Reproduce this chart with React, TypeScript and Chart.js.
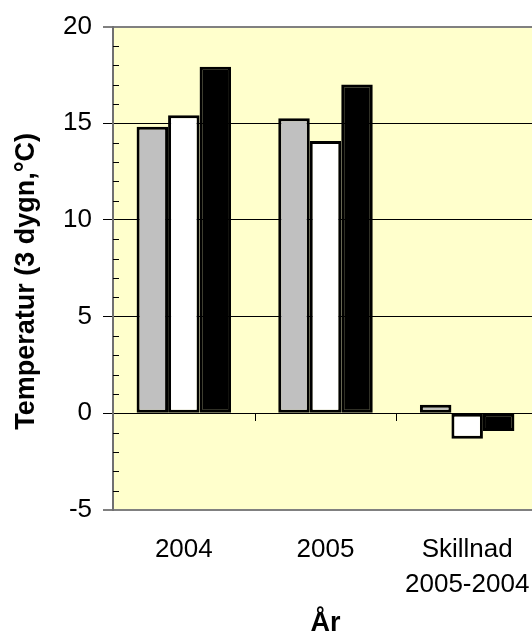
import React, { useEffect, useRef } from "react";
import { Chart, registerables } from "chart.js";
Chart.register(...registerables);

const categories: string[][] = [["2004"], ["2005"], ["Skillnad", "2005-2004"]];
const seriesGray = [14.82, 15.26, 0.44];
const seriesWhite = [15.41, 14.09, -1.32];
const seriesBlack = [17.92, 17.0, -0.92];
const yMin = -5;
const yMax = 20;
const yStep = 5;
const yTitle = "Temperatur (3 dygn,°C)";
const xTitle = "År";

const FONT = "'Liberation Sans', Arial, sans-serif";

const decorPlugin = {
  id: "decor",
  beforeDraw(chart: any) {
    const { ctx, chartArea } = chart;
    ctx.save();
    ctx.fillStyle = "#FFFFCC";
    ctx.fillRect(chartArea.left, chartArea.top, chartArea.right - chartArea.left, chartArea.bottom - chartArea.top);
    ctx.restore();
  },
  afterDatasetsDraw(chart: any) {
    const { ctx, chartArea, scales } = chart;
    const y = scales.y;
    const x = scales.x;
    ctx.save();
    ctx.strokeStyle = "#000000";
    ctx.lineWidth = 1;
    for (let v = yMin; v <= yMax; v++) {
      if (v % yStep === 0) continue;
      const py = Math.round(y.getPixelForValue(v)) + 0.5;
      ctx.beginPath();
      ctx.moveTo(chartArea.left, py);
      ctx.lineTo(chartArea.left + 6, py);
      ctx.stroke();
    }
    const y0 = Math.round(y.getPixelForValue(0));
    for (let i = 0; i < categories.length - 1; i++) {
      const px = Math.round((x.getPixelForValue(i) + x.getPixelForValue(i + 1)) / 2) + 0.5;
      ctx.beginPath();
      ctx.moveTo(px, y0);
      ctx.lineTo(px, y0 + 8);
      ctx.stroke();
    }
    ctx.restore();
  },
  afterDraw(chart: any) {
    const { ctx, chartArea } = chart;
    ctx.save();
    ctx.translate(27, (chartArea.top + chartArea.bottom) / 2 + 13);
    ctx.rotate(-Math.PI / 2);
    ctx.font = "bold 27px " + FONT;
    ctx.fillStyle = "#000000";
    ctx.textAlign = "center";
    ctx.textBaseline = "middle";
    ctx.fillText(yTitle, 0, 0);
    ctx.restore();
  },
};

export default function App() {
  const ref = useRef<HTMLCanvasElement | null>(null);
  useEffect(() => {
    if (!ref.current) return;
    const common = {
      borderColor: "#000000",
      borderWidth: 3,
      borderSkipped: false,
      categoryPercentage: 0.667,
      barPercentage: 1.0,
    };
    const chart = new Chart(ref.current, {
      type: "bar",
      data: {
        labels: categories as any,
        datasets: [
          { label: "a", data: seriesGray, backgroundColor: "#C0C0C0", ...common },
          { label: "b", data: seriesWhite, backgroundColor: "#FFFFFF", ...common },
          { label: "c", data: seriesBlack, backgroundColor: "#000000", ...common },
        ] as any,
      },
      options: {
        responsive: false,
        animation: false,
        devicePixelRatio: 1,
        layout: { padding: { top: 25, left: 0, right: 22, bottom: 0 } },
        plugins: { legend: { display: false }, tooltip: { enabled: false } },
        scales: {
          x: {
            grid: { display: false, drawTicks: false },
            border: { display: false },
            ticks: {
              color: "#000000",
              font: { family: FONT, size: 26, lineHeight: 1.35 },
              padding: 22,
              maxRotation: 0,
              autoSkip: false,
            },
            title: {
              display: true,
              text: xTitle,
              color: "#000000",
              font: { family: FONT, size: 27, weight: "bold", lineHeight: 1.0 },
              padding: { top: 0, bottom: -1 },
            },
            afterFit(scale: any) {
              scale.height = 126;
            },
          },
          y: {
            min: yMin,
            max: yMax,
            ticks: {
              stepSize: yStep,
              color: "#000000",
              font: { family: FONT, size: 26 },
              padding: 11,
            },
            grid: {
              color: (c: any) => (c.tick && (c.tick.value === yMax || c.tick.value === yMin) ? "#808080" : "#000000"),
              lineWidth: (c: any) => (c.tick && (c.tick.value === yMax || c.tick.value === yMin) ? 2 : 1),
              tickColor: "#000000",
              tickLength: 10,
              tickWidth: 1,
            },
            border: { display: true, color: "#707070", width: 2 },
            title: { display: false },
            afterFit(scale: any) {
              scale.width = 113;
            },
          },
        },
      } as any,
      plugins: [decorPlugin],
    });
    return () => chart.destroy();
  }, []);
  return (
    <div style={{ position: "fixed", left: 0, top: 0, width: 532, height: 636, overflow: "hidden", background: "#fff" }}>
      <canvas ref={ref} width={560} height={636} style={{ display: "block" }} />
    </div>
  );
}
